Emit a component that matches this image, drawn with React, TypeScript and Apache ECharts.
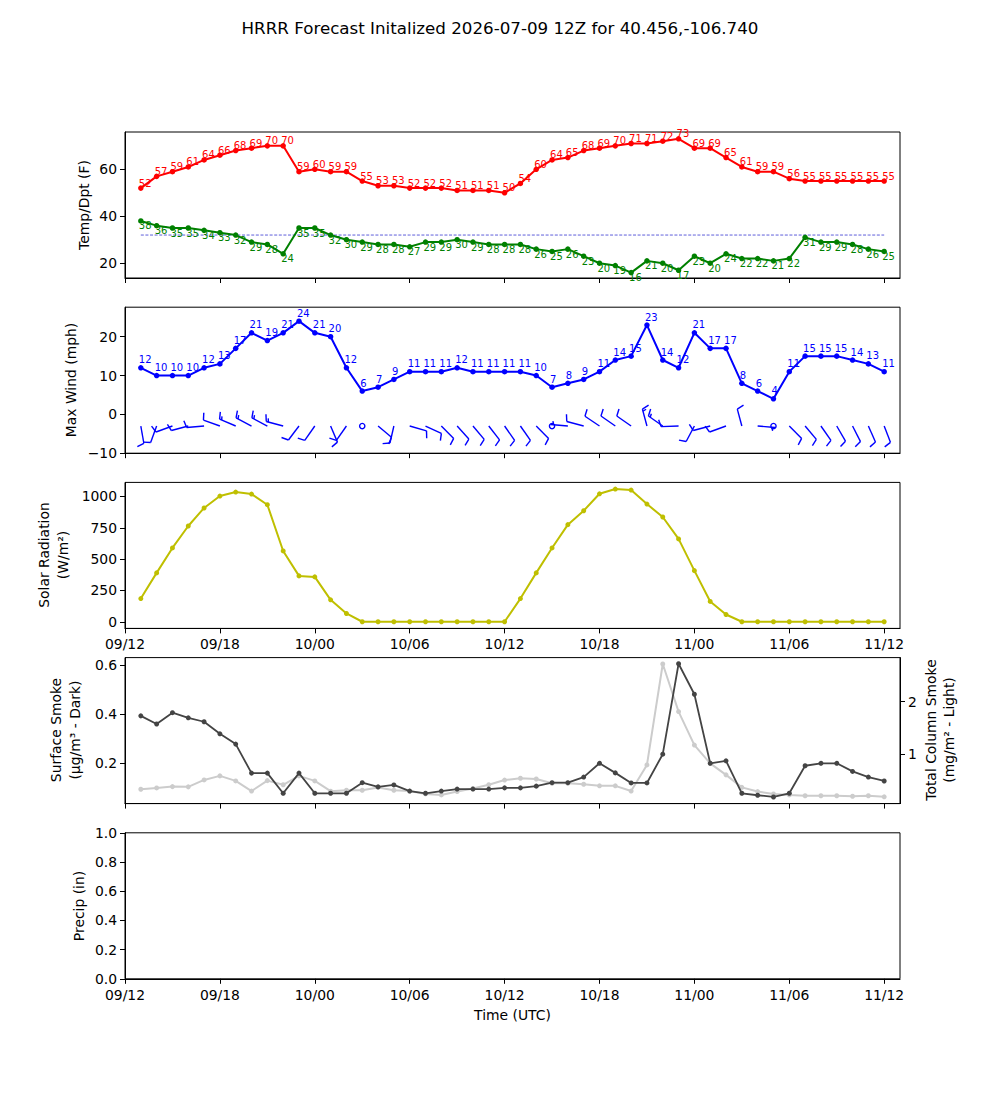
import React, { useEffect, useRef } from 'react';
import * as echarts from 'echarts';

// Forecast hours after init (09/12Z)
const hours = [1, 2, 3, 4, 5, 6, 7, 8, 9, 10, 11, 12, 13, 14, 15, 16, 17, 18, 19, 20, 21, 22, 23, 24,
  25, 26, 27, 28, 29, 30, 31, 32, 33, 34, 35, 36, 37, 38, 39, 40, 41, 42, 43, 44, 45, 46, 47, 48];

const tempF = [52, 57, 59, 61, 64, 66, 68, 69, 70, 70, 59, 60, 59, 59, 55, 53, 53, 52, 52, 52, 51, 51, 51, 50,
  54, 60, 64, 65, 68, 69, 70, 71, 71, 72, 73, 69, 69, 65, 61, 59, 59, 56, 55, 55, 55, 55, 55, 55];
const dewF = [38, 36, 35, 35, 34, 33, 32, 29, 28, 24, 35, 35, 32, 30, 29, 28, 28, 27, 29, 29, 30, 29, 28, 28,
  28, 26, 25, 26, 23, 20, 19, 16, 21, 20, 17, 23, 20, 24, 22, 22, 21, 22, 31, 29, 29, 28, 26, 25];
const freezeF = 32;

const windMph = [12, 10, 10, 10, 12, 13, 17, 21, 19, 21, 24, 21, 20, 12, 6, 7, 9, 11, 11, 11, 12, 11, 11, 11,
  11, 10, 7, 8, 9, 11, 14, 15, 23, 14, 12, 21, 17, 17, 8, 6, 4, 11, 15, 15, 15, 14, 13, 11];
// barb direction (deg, wind from) and barb speed as drawn
const barbDir = [170, 200, 250, 255, 265, 290, 293, 298, 298, 285, 217, 215, 157, 215, 0, 130, 193, 106, 115, 135, 138, 140, 142, 145,
  145, 135, 0, 275, 285, 304, 305, 305, 345, 305, 268, 208, 255, 250, 345, 95, 0, 135, 140, 145, 150, 153, 156, 159];
const barbSpd = [10, 10, 10, 10, 10, 10, 15, 15, 15, 15, 10, 10, 10, 10, 0, 10, 10, 10, 10, 10, 10, 10, 10, 10,
  10, 10, 0, 5, 10, 10, 10, 10, 15, 15, 10, 10, 10, 10, 10, 5, 0, 10, 10, 10, 10, 10, 10, 10];
const barbLevel = -3;

const solarWm2 = [185, 390, 589, 764, 908, 1003, 1035, 1019, 934, 565, 366, 358, 175, 66, 0, 0, 0, 0, 0, 0, 0, 0, 0, 0,
  185, 390, 589, 775, 886, 1021, 1059, 1051, 939, 836, 661, 408, 162, 58, 0, 0, 0, 0, 0, 0, 0, 0, 0, 0];

const smokeSfc = [0.393, 0.36, 0.406, 0.385, 0.369, 0.32, 0.278, 0.16, 0.16, 0.078, 0.16, 0.078, 0.078, 0.078, 0.121, 0.104,
  0.112, 0.087, 0.078, 0.087, 0.095, 0.095, 0.095, 0.1, 0.1, 0.107, 0.121, 0.121, 0.144, 0.2, 0.161, 0.12, 0.12, 0.237,
  0.605, 0.481, 0.2, 0.21, 0.078, 0.07, 0.063, 0.078, 0.19, 0.2, 0.2, 0.167, 0.144, 0.128];
const smokeCol = [0.325, 0.35, 0.375, 0.37, 0.503, 0.58, 0.484, 0.29, 0.49, 0.41, 0.58, 0.484, 0.287, 0.306, 0.306, 0.36,
  0.306, 0.29, 0.235, 0.216, 0.28, 0.34, 0.41, 0.5, 0.535, 0.52, 0.44, 0.44, 0.42, 0.39, 0.39, 0.29, 0.79, 2.72,
  1.81, 1.17, 0.82, 0.6, 0.36, 0.28, 0.235, 0.216, 0.2, 0.2, 0.2, 0.19, 0.2, 0.18];

const xTickHours = [0, 6, 12, 18, 24, 30, 36, 42, 48];
const xTickLabels = ['09/12', '09/18', '10/00', '10/06', '10/12', '10/18', '11/00', '11/06', '11/12'];

const tempTicks = [20, 40, 60];
const windTicks = [-10, 0, 10, 20];
const solarTicks = [0, 250, 500, 750, 1000];
const smokeSfcTicks = [0.2, 0.4, 0.6];
const smokeColTicks = [1, 2];
const precipTicks = [0, 0.2, 0.4, 0.6, 0.8, 1.0];

const FONT = 'DejaVu Sans';
const TICK_FS = 13.9;
const LBL_FS = 10;
const gridTops = [132, 307.2, 482.4, 657.6, 832.8];
const gridH = 146;
const BARB_L = 17.5;

function makeX(i: number, showLabels: boolean) {
  return {
    type: 'value', gridIndex: i, min: 0, max: 49,
    axisLine: { show: true, onZero: false, lineStyle: { color: '#000', width: 1 } },
    axisTick: { show: true, customValues: xTickHours, length: 5, lineStyle: { color: '#000', width: 1 } },
    axisLabel: {
      show: showLabels, customValues: xTickHours, margin: 9, color: '#000', fontSize: TICK_FS, fontFamily: FONT,
      formatter: (v: number) => { const k = xTickHours.indexOf(v); return k >= 0 ? xTickLabels[k] : ''; },
    },
    splitLine: { show: false },
  };
}

function makeY(i: number, min: number, max: number, ticks: number[], fmt: (v: number) => string, position = 'left') {
  return {
    type: 'value', gridIndex: i, min, max, position,
    axisLine: { show: true, onZero: false, lineStyle: { color: '#000', width: 1 } },
    axisTick: { show: true, customValues: ticks, length: 5, lineStyle: { color: '#000', width: 1 } },
    axisLabel: { show: true, customValues: ticks, margin: 8, color: '#000', fontSize: TICK_FS, fontFamily: FONT, formatter: fmt },
    splitLine: { show: false },
  };
}

function lineSeries(name: string, xi: number, yi: number, vals: number[], color: string, width: number, size: number, label?: any, z = 3) {
  return {
    name, type: 'line', xAxisIndex: xi, yAxisIndex: yi, z,
    data: hours.map((h, k) => [h, vals[k]]),
    symbol: 'circle', symbolSize: size, showSymbol: true,
    lineStyle: { color, width },
    itemStyle: { color, borderWidth: 0 },
    label: label || { show: false },
    emphasis: { disabled: true },
  };
}

function dataLabel(color: string, vAlign: string, dy: number) {
  return {
    show: true, position: 'inside', align: 'left', verticalAlign: vAlign, offset: [-2, dy],
    color, fontSize: LBL_FS, fontFamily: FONT,
    formatter: (p: any) => String(Math.round(p.value[1])),
  };
}

function vText(text: string, x: number, y: number) {
  return {
    type: 'text', x, y, rotation: Math.PI / 2,
    style: { text, align: 'center', verticalAlign: 'middle', fontSize: TICK_FS, fontFamily: FONT, fill: '#000' },
  };
}

export default function App() {
  const ref = useRef<HTMLDivElement>(null);
  useEffect(() => {
    if (!ref.current) return;
    const chart = echarts.init(ref.current, undefined, { renderer: 'svg' });
    const grids = gridTops.map((t) => ({
      left: 125, width: 775, top: t, height: gridH, show: true, borderColor: '#000', borderWidth: 1, backgroundColor: 'transparent',
    }));
    const barbData = hours.map((h, k) => [h, barbLevel, barbDir[k], barbSpd[k]]);
    const option: any = {
      animation: false,
      backgroundColor: '#fff',
      textStyle: { fontFamily: FONT },
      grid: grids,
      xAxis: [makeX(0, false), makeX(1, false), makeX(2, true), makeX(3, false), makeX(4, true)],
      yAxis: [
        makeY(0, 13.7, 75.9, tempTicks, (v) => String(v)),
        makeY(1, -10, 27.6, windTicks, (v) => (v < 0 ? '\u2212' + Math.abs(v) : String(v))),
        makeY(2, -53, 1112, solarTicks, (v) => String(v)),
        makeY(3, 0.036, 0.63, smokeSfcTicks, (v) => v.toFixed(1)),
        makeY(3, 0.05, 2.843, smokeColTicks, (v) => String(v), 'right'),
        makeY(4, 0, 1, precipTicks, (v) => v.toFixed(1)),
      ],
      series: [
        {
          type: 'line', xAxisIndex: 0, yAxisIndex: 0, z: 2,
          data: hours.map((h) => [h, freezeF]),
          showSymbol: false, symbol: 'none',
          lineStyle: { color: '#1a1acc', width: 0.7, type: [3, 1.6] },
          emphasis: { disabled: true },
        },
        lineSeries('Temp', 0, 0, tempF, '#ff0000', 2, 5.5, dataLabel('#ff0000', 'bottom', 0)),
        lineSeries('Dewpoint', 0, 0, dewF, '#008000', 2, 5.5, dataLabel('#008000', 'top', 0)),
        lineSeries('Wind', 1, 1, windMph, '#0000ff', 2, 5.5, dataLabel('#0000ff', 'bottom', -3)),
        {
          type: 'custom', xAxisIndex: 1, yAxisIndex: 1, z: 3,
          data: barbData,
          renderItem: (params: any, api: any) => {
            const h = api.value(0), yv = api.value(1);
            const dir = api.value(2) as number, spd = api.value(3) as number;
            const p = api.coord([h, yv]);
            const style = { stroke: '#0000ff', lineWidth: 1.4, fill: 'none' };
            const r5 = Math.round(spd / 5) * 5;
            const L = BARB_L;
            if (r5 < 5) {
              return { type: 'circle', shape: { cx: p[0], cy: p[1], r: 0.15 * L }, style };
            }
            const rad = (dir * Math.PI) / 180;
            const s = [Math.sin(rad), -Math.cos(rad)];
            const b = [Math.cos(rad), Math.sin(rad)];
            const pt = (along: number, side: number) => [p[0] + s[0] * along + b[0] * side, p[1] + s[1] * along + b[1] * side];
            const children: any[] = [{ type: 'polyline', shape: { points: [pt(0, 0), pt(L, 0)] }, style }];
            const nFull = Math.floor(r5 / 10);
            const half = r5 % 10 === 5;
            const sp = 0.125 * L;
            let off = L;
            for (let k = 0; k < nFull; k++) {
              children.push({ type: 'polyline', shape: { points: [pt(off, 0), pt(off + 0.125 * L, 0.4 * L)] }, style });
              off -= sp;
            }
            if (half) {
              if (nFull === 0) off -= 1.5 * sp;
              children.push({ type: 'polyline', shape: { points: [pt(off, 0), pt(off + 0.0625 * L, 0.2 * L)] }, style });
            }
            return { type: 'group', children };
          },
        },
        lineSeries('Solar', 2, 2, solarWm2, '#bfbf00', 2, 5),
        lineSeries('ColSmoke', 3, 4, smokeCol, '#cccccc', 2, 5, undefined, 3),
        lineSeries('SfcSmoke', 3, 3, smokeSfc, '#444444', 1.8, 5, undefined, 4),
      ],
      graphic: [
        {
          type: 'text', x: 500, y: 28,
          style: { text: 'HRRR Forecast Initalized 2026-07-09 12Z for 40.456,-106.740', align: 'center', verticalAlign: 'middle', fontSize: 16.7, fontFamily: FONT, fill: '#000' },
        },
        vText('Temp/Dpt (F)', 84, 205),
        vText('Max Wind (mph)', 71, 380),
        vText('Solar Radiation', 44, 555),
        vText('(W/m\u00b2)', 63, 555),
        vText('Surface Smoke', 56, 730),
        vText('(\u03bcg/m\u00b3 - Dark)', 75, 730),
        vText('Total Column Smoke', 931, 730),
        vText('(mg/m\u00b2 - Light)', 949, 730),
        vText('Precip (in)', 79, 906),
        {
          type: 'text', x: 512.5, y: 1015,
          style: { text: 'Time (UTC)', align: 'center', verticalAlign: 'middle', fontSize: TICK_FS, fontFamily: FONT, fill: '#000' },
        },
      ],
    };
    chart.setOption(option);
    return () => chart.dispose();
  }, []);
  return <div ref={ref} style={{ position: 'absolute', left: 0, top: 0, width: 1000, height: 1100 }} />;
}
